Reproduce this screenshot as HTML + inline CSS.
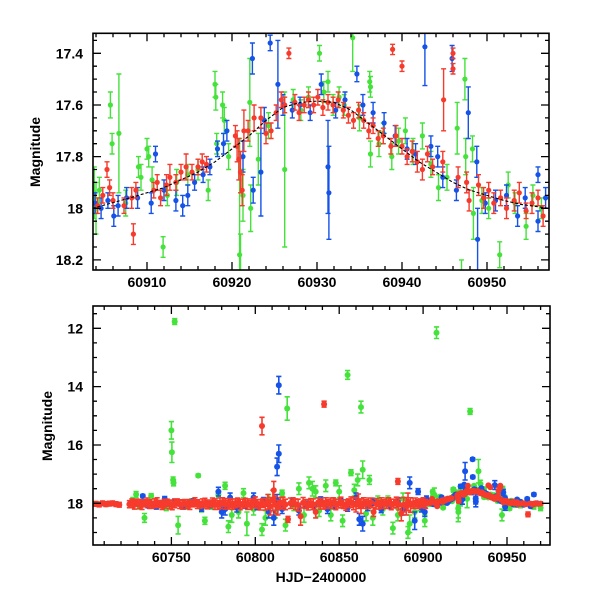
<!DOCTYPE html>
<html><head><meta charset="utf-8"><style>
html,body{margin:0;padding:0;background:#fff}
svg{display:block}
text{font-family:"Liberation Sans",sans-serif;font-weight:bold;fill:#000}
</style></head><body>
<svg id="chart" width="600" height="600" viewBox="0 0 600 600" xmlns="http://www.w3.org/2000/svg">
<defs>
<clipPath id="clipTop"><rect x="93" y="33.3" width="456" height="236.7"/></clipPath>
<clipPath id="clipBot"><rect x="93" y="306" width="457" height="239"/></clipPath>
</defs>
<g id="top"></g>
<g id="bot"></g>
<text transform="translate(40,152) rotate(-90)" text-anchor="middle" font-size="14">Magnitude</text>
<text transform="translate(52,426) rotate(-90)" text-anchor="middle" font-size="14">Magnitude</text>
<text x="321" y="582" text-anchor="middle" font-size="14">HJD−2400000</text>
</svg>
<script>
const red = [
[60705,18.02,.08],[60707,18.04,.08],[60709,18.0,.08],[60711,18.03,.08],[60713,18.01,.08],[60715,18.0,.08],[60717,18.03,.08],[60719,18.05,.08],
[60725,18.03,.12],[60726.5,18.0,.15],[60728,18.05,.15],[60729.5,17.98,.12],[60731,18.02,.15],[60732.5,18.06,.15],[60734,18.0,.12],[60735.5,17.97,.15],[60737,18.03,.15],[60738.5,18.05,.12],[60740,18.0,.15],[60741.5,17.96,.15],[60743,18.02,.12],[60744.5,18.06,.15],[60746,18.01,.15],[60747.5,17.98,.12],[60749,18.04,.15],[60750.5,18.07,.15],[60752,18.0,.15],[60753.5,17.97,.12],[60755,18.03,.15],[60756.5,18.05,.15],[60758,17.99,.12],[60759.5,18.02,.15],[60761,18.06,.15],[60762.5,18.0,.12],[60764,17.96,.15],[60765.5,18.03,.15],[60767,18.05,.12],[60768.5,18.0,.15],[60770,17.98,.15],[60771.5,18.04,.15],[60773,18.01,.12],[60774.5,17.97,.15],[60776,18.03,.18],[60777.5,18.06,.15],[60779,18.0,.18],[60780.5,17.96,.15],[60782,18.02,.18],[60783.5,18.05,.15],[60785,17.99,.15],[60786.5,18.03,.18],[60788,18.0,.15],[60789.5,17.97,.15],[60791,18.04,.18],[60792.5,18.01,.15],[60794,17.98,.15],[60795.5,18.03,.18],[60797,18.06,.15],[60798.5,18.0,.15],[60800,17.96,.18],[60801.5,18.02,.15],[60803,18.05,.18],[60804,15.35,.3],[60804.5,17.99,.15],[60806,18.03,.2],[60807.5,17.95,.25],[60809,18.1,.3],[60810.5,17.9,.35],[60811,17.55,.3],[60812,18.05,.3],[60813.5,18.15,.25],[60815,18.0,.2],[60816.5,17.97,.18],[60818,18.04,.18],[60819.5,18.55,.1],[60821,18.0,.18],[60822.5,17.96,.15],[60824,18.03,.18],[60825.5,18.06,.2],[60827,18.45,.3],[60828.5,17.98,.18],[60830,18.02,.15],[60831.5,18.05,.18],[60833,17.99,.15],[60834.5,18.03,.18],[60836,18.3,.2],[60837.5,17.97,.15],[60839,18.02,.18],[60840.5,18.05,.15],[60841,14.6,.1],[60842,17.99,.18],[60843.5,18.03,.15],[60845,18.0,.18],[60846.5,17.96,.15],[60848,18.04,.18],[60849.5,18.01,.15],[60851,17.97,.18],[60852.5,18.03,.15],[60854,18.06,.18],[60855.5,18.0,.15],[60857,17.96,.18],[60858.5,18.02,.2],[60860,18.05,.25],[60861.5,17.93,.25],[60863,18.1,.25],[60864.5,17.99,.18],[60866,18.03,.15],[60867.5,18.0,.18],[60869,17.97,.15],[60870.5,18.3,.15],[60872,18.02,.18],[60873.5,18.05,.15],[60875,17.99,.18],[60876.5,18.03,.15],[60878,18.0,.18],[60879.5,17.96,.15],[60881,18.04,.18],[60882.5,18.01,.15],[60884,17.97,.18],[60885,17.25,.1],[60885.5,18.03,.2],[60887,18.35,.25],[60888.5,18.05,.25],[60890,18.1,.3],[60891,17.95,.3],[60892.5,18.06,.25],[60894,18.0,.18],[60895.5,17.97,.15],[60897,18.03,.15],[60898.5,18.0,.15],[60900,17.96,.15],[60901.5,18.02,.15],[60903,17.98,.05],
[60904.2,17.99,.03],[60904.8,17.95,.03],[60905.3,17.85,.03],[60905.6,17.92,.03],[60906.0,17.97,.03],[60907.3,17.99,.03],[60908.2,17.96,.04],[60908.4,18.1,.04],[60908.7,17.93,.03],[60910.8,17.93,.03],[60911.2,17.9,.03],[60911.6,17.96,.03],[60912.3,17.91,.04],[60912.7,17.88,.05],[60913.4,17.9,.03],[60914.0,17.86,.03],[60914.6,17.84,.05],[60915.3,17.86,.03],[60916.0,17.84,.03],[60916.5,17.82,.03],[60917.0,17.83,.03],[60920.4,17.72,.04],[60920.6,17.76,.06],[60920.8,17.81,.08],[60921.0,17.86,.08],[60921.2,17.93,.06],[60921.4,17.7,.08],[60921.9,17.7,.04],[60922.6,17.65,.05],[60923.4,17.65,.04],[60924.0,17.71,.04],[60924.6,17.7,.03],[60925.2,17.63,.03],[60925.8,17.58,.03],[60926.2,17.6,.03],[60926.7,17.4,.02],[60927.4,17.59,.03],[60927.9,17.63,.03],[60928.5,17.6,.03],[60929.0,17.58,.03],[60929.6,17.6,.03],[60930.1,17.57,.03],[60930.7,17.61,.03],[60931.3,17.59,.03],[60931.9,17.6,.03],[60932.5,17.58,.03],[60933.1,17.62,.03],[60933.7,17.64,.03],[60934.3,17.66,.03],[60934.9,17.62,.03],[60935.5,17.66,.03],[60936.1,17.7,.03],[60936.6,17.68,.03],[60937.2,17.73,.03],[60937.8,17.72,.03],[60938.7,17.76,.03],[60938.9,17.385,.02],[60939.3,17.72,.04],[60940.0,17.45,.02],[60940.0,17.76,.03],[60940.6,17.8,.03],[60941.2,17.78,.04],[60941.8,17.82,.04],[60942.4,17.85,.04],[60943.0,17.79,.03],[60943.6,17.84,.03],[60944.8,17.82,.04],[60944.9,17.58,.12],[60946.0,17.4,.02],[60946.0,17.46,.02],[60946.6,17.88,.04],[60947.6,17.9,.04],[60947.9,17.97,.04],[60949.0,17.91,.04],[60949.6,17.96,.04],[60950.2,17.93,.03],[60950.8,17.98,.04],[60951.6,17.96,.03],[60952.3,18.0,.04],[60953.2,17.97,.04],[60953.8,17.94,.04],[60954.6,18.01,.03],[60955.3,17.98,.04],[60956.0,17.96,.03],[60956.6,18.03,.04],
[60958,18.02,.06],[60959.5,18.0,.06],[60961,18.03,.06],[60962.5,18.38,.08],[60964,18.01,.06],[60965.5,18.04,.06],[60967,18.0,.06],[60968.5,18.02,.06],[60970,18.01,.06]
];
const blue = [
[60733,17.75,.05],[60736,18.05,.1],[60741,18.1,.1],[60746,17.85,.08],[60752,17.95,.08],[60757,18.1,.1],[60763,17.95,.1],[60768,18.15,.12],[60773,18.05,.1],[60778,17.6,.15],[60780,18.3,.2],[60782,18.2,.2],[60785,17.8,.15],[60789,18.15,.15],[60794,18.05,.12],[60799,17.8,.15],[60801,18.1,.12],[60805,17.95,.15],[60808,18.3,.2],[60811,18.5,.25],[60813,17.9,.2],[60813,16.75,.3],[60814,16.3,.3],[60814,13.95,.3],[60816,18.2,.15],[60822,17.95,.12],[60826,18.25,.15],[60830,18.05,.12],[60835,18.1,.12],[60839,17.9,.12],[60843,18.2,.15],[60847,18.05,.12],[60851,17.95,.12],[60855,18.15,.12],[60860,17.8,.15],[60862,18.55,.2],[60864,18.7,.25],[60867,18.1,.15],[60870,17.95,.12],[60875,18.2,.12],[60880,18.05,.12],[60885,17.95,.15],[60888,18.2,.2],[60892,17.3,.2],[60895,18.6,.3],[60897,17.6,.1],[60899,18.15,.15],[60901,18.3,.15],[60902,17.85,.1],
[60903.9,17.98,.04],[60904.6,18.0,.04],[60905.4,17.97,.03],[60906.1,18.03,.04],[60906.6,17.99,.04],[60907.6,17.96,.04],[60908.9,17.96,.04],[60910.5,17.98,.04],[60911.0,17.79,.03],[60912.0,17.93,.04],[60913.4,17.97,.04],[60914.2,17.99,.04],[60914.8,17.95,.04],[60915.6,17.9,.03],[60916.6,17.87,.03],[60917.4,17.84,.03],[60918.3,17.77,.03],[60919.0,17.75,.04],[60919.4,17.7,.04],[60921.3,17.8,.06],[60922.4,17.42,.06],[60922.5,17.93,.05],[60923.4,17.86,.17],[60923.8,17.66,.05],[60924.5,17.36,.03],[60925,16.9,.3],[60925.4,17.52,.17],[60926.0,17.6,.04],[60927.1,17.62,.03],[60928.0,17.6,.03],[60929.2,17.63,.03],[60929.5,16.49,.05],[60929.6,17.1,.05],[60930.5,17.52,.04],[60931.3,17.84,.18],[60931.4,17.94,.18],[60932.2,17.62,.03],[60933.3,17.58,.03],[60934.7,17.48,.03],[60935.4,17.6,.04],[60936.6,17.63,.04],[60937.9,17.67,.04],[60939.2,17.72,.04],[60940.6,17.77,.04],[60941.6,17.79,.04],[60942.7,17.375,.15],[60943.4,17.76,.04],[60944.2,17.8,.04],[60944.8,17.88,.04],[60945.9,17.42,.05],[60946.4,17.93,.04],[60947.8,17.63,.1],[60948.8,17.82,.06],[60948.9,18.12,.12],[60949.8,17.98,.04],[60951.0,17.97,.04],[60952.3,17.95,.04],[60953.6,18.03,.04],[60954.5,17.96,.04],[60956.0,17.87,.03],[60956.0,18.05,.04],[60956.9,17.96,.04],
[60958,17.95,.05],[60960,18.05,.05],[60962,17.85,.05],[60964,18.1,.05],[60966,17.7,.05],[60968,18.0,.05]
];
const green = [
[60727,17.9,.1],[60729,17.7,.1],[60731,18.1,.1],[60734,18.5,.15],[60738,17.75,.08],[60742,18.05,.1],[60747,18.15,.1],[60750,15.5,.3],[60750.3,16.25,.35],[60751,17.2,.1],[60751.3,17.3,.1],[60752,11.77,.1],[60754,18.75,.3],[60758,18.1,.1],[60762,17.95,.1],[60766,17.05,.05],[60768,18.2,.1],[60770,18.6,.12],[60774,18.1,.1],[60778,17.7,.1],[60782,17.4,.12],[60784,18.8,.2],[60786,18.4,.25],[60790,18.3,.2],[60793,17.65,.15],[60795,18.7,.4],[60799,18.2,.2],[60804,18.9,.2],[60806,18.5,.25],[60808,17.85,.15],[60812,18.3,.2],[60816,17.65,.1],[60818,18.75,.2],[60819,14.75,.4],[60823,18.1,.15],[60826,17.5,.2],[60829,18.4,.25],[60832,17.3,.2],[60834,17.5,.25],[60836,17.6,.2],[60838,18.25,.2],[60842,17.4,.2],[60845,18.4,.2],[60848,17.3,.1],[60850,17.6,.2],[60852,18.6,.2],[60855,13.6,.15],[60857,16.95,.1],[60859,17.55,.2],[60861,17.2,.2],[60863,14.7,.2],[60864,16.85,.3],[60866,18.35,.25],[60868,17.2,.15],[60870,18.5,.25],[60873,17.9,.15],[60876,18.2,.2],[60879,17.9,.15],[60882,18.85,.2],[60885,18.4,.2],[60888,17.85,.2],[60891,19.0,.2],[60892,18.7,.3],[60895,18.3,.2],[60898,18.1,.15],[60901,18.6,.2],[60908,12.15,.2],[60921,18.3,.2],[60928,14.85,.1],[60933,16.9,.4],[60947,18.4,.2],
[60903.8,17.94,.1],[60904.0,18.0,.1],[60904.4,17.93,.05],[60905.7,17.6,.05],[60905.9,17.75,.04],[60906.7,17.71,.23],[60907.5,17.98,.05],[60909.0,17.84,.04],[60909.3,17.88,.05],[60910.0,17.77,.04],[60910.2,17.8,.04],[60910.6,17.89,.05],[60911.9,18.15,.04],[60912.4,17.95,.04],[60913.5,17.9,.05],[60914.8,17.87,.04],[60916.0,17.85,.04],[60917.2,17.93,.04],[60918.0,17.52,.05],[60918.1,17.57,.05],[60918.2,17.75,.04],[60918.9,17.6,.05],[60919.1,17.66,.05],[60919.6,17.8,.05],[60920.9,18.18,.45],[60921.3,17.95,.1],[60922.1,17.59,.17],[60922.2,18.0,.09],[60923.1,17.81,.1],[60924.3,17.68,.05],[60926.2,17.85,.3],[60927.2,17.58,.04],[60928.1,17.62,.04],[60929.0,17.57,.04],[60930.3,17.4,.03],[60930.8,17.55,.04],[60931.3,17.51,.04],[60931.9,17.6,.04],[60932.6,17.57,.04],[60933.2,17.6,.04],[60934.2,17.34,.13],[60935.0,17.65,.05],[60936.2,17.51,.04],[60936.3,17.53,.04],[60936.3,17.79,.05],[60937.3,17.75,.05],[60937.8,17.71,.04],[60938.8,17.8,.05],[60939.6,17.74,.05],[60940.4,17.7,.05],[60941.3,17.78,.05],[60942.4,17.72,.05],[60943.4,17.83,.05],[60944.3,17.92,.05],[60945.3,17.88,.05],[60946.5,17.69,.1],[60947.4,17.5,.08],[60947.5,17.8,.07],[60948.3,17.77,.05],[60948.4,18.02,.1],[60949.4,17.97,.05],[60950.2,18.0,.04],[60951.5,18.18,.05],[60952.5,17.91,.05],[60953.3,17.98,.04],[60954.6,18.07,.05],[60955.4,17.95,.04],[60956.4,18.0,.04],
[60958,18.05,.1],[60962,17.95,.1],[60966,18.1,.1],[60970,18.15,.1]
];
const modelT = [60903.6,60908,60912,60916,60918,60920,60922,60924,60926,60928,60930,60932,60934,60936,60938,60940,60942,60944,60946,60948,60950,60952,60954,60957.3];
const modelM = [18.0,17.96,17.92,17.86,17.82,17.77,17.72,17.66,17.61,17.59,17.585,17.59,17.62,17.67,17.72,17.77,17.82,17.86,17.9,17.93,17.95,17.97,17.985,18.0];
const topXTicks = [60910,60920,60930,60940,60950];
const topYTicks = [17.4,17.6,17.8,18.0,18.2];
const topYLabels = ["17.4","17.6","17.8","18","18.2"];
const botXTicks = [60750,60800,60850,60900,60950];
const botYTicks = [12,14,16,18];
const botYLabels = ["12","14","16","18"];

const NS='http://www.w3.org/2000/svg';
function mk(tag,attrs,parent){const e=document.createElementNS(NS,tag);for(const k in attrs)e.setAttribute(k,attrs[k]);parent.appendChild(e);return e;}

function panel(g,cfg){
  const X=t=>cfg.x0+(t-cfg.t0)*(cfg.x1-cfg.x0)/(cfg.t1-cfg.t0);
  const Y=m=>cfg.y0+(m-cfg.m0)*(cfg.y1-cfg.y0)/(cfg.m1-cfg.m0);
  const data=mk('g',{'clip-path':'url(#'+cfg.clip+')'},g);
  
  
  const series=[['green',green,'#46e23c'],['blue',blue,'#1552e8'],['red',red,'#f63a2c']];
  for(const [nm,arr,col] of series){
    const sg=mk('g',{},data);
    
    
    let d='';
    for(const p of arr){
      const x=X(p[0]),ya=Y(p[1]-p[2]),yb=Y(p[1]+p[2]);
      d+=`M${x.toFixed(1)} ${ya.toFixed(1)}V${yb.toFixed(1)}M${(x-cfg.cap).toFixed(1)} ${ya.toFixed(1)}h${2*cfg.cap}M${(x-cfg.cap).toFixed(1)} ${yb.toFixed(1)}h${2*cfg.cap}`;
    }
    const eb=mk('path',{d:d,stroke:col,'stroke-width':cfg.ew,fill:'none'},sg);
    
    
    for(const p of arr){
      const c=mk('circle',{cx:X(p[0]).toFixed(1),cy:Y(p[1]).toFixed(1),r:cfg.r,fill:col},sg);
      
      
    }
  }
  if(cfg.model){
    let d='';modelT.forEach((t,i)=>{d+=(i?'L':'M')+X(t).toFixed(1)+' '+Y(modelM[i]).toFixed(1);});
    const ml=mk('path',{d:d,stroke:'#000','stroke-width':1.1,fill:'none','stroke-dasharray':'3 2'},data);
    
    
  }
  const fr=mk('rect',{x:cfg.x0,y:cfg.y0,width:cfg.x1-cfg.x0,height:cfg.y1-cfg.y0,fill:'none',stroke:'#000','stroke-width':1.6},g);
  
  
  let td='';
  const tMin=Math.ceil(cfg.t0/cfg.xMinor)*cfg.xMinor;
  for(let t=tMin;t<=cfg.t1;t+=cfg.xMinor){
    const maj=Math.abs(t/cfg.xMajor-Math.round(t/cfg.xMajor))<1e-6;const L=maj?8:4;const x=X(t).toFixed(1);
    td+=`M${x} ${cfg.y1}v${-L}M${x} ${cfg.y0}v${L}`;
  }
  const mMin=Math.ceil(cfg.m0/cfg.yMinor-1e-6)*cfg.yMinor;
  for(let k=0;mMin+k*cfg.yMinor<=cfg.m1+1e-9;k++){
    const m=mMin+k*cfg.yMinor;
    const maj=Math.abs(m/cfg.yMajor-Math.round(m/cfg.yMajor))<1e-6;const L=maj?8:4;const y=Y(m).toFixed(1);
    td+=`M${cfg.x0} ${y}h${L}M${cfg.x1} ${y}h${-L}`;
  }
  const tk=mk('path',{d:td,stroke:'#000','stroke-width':1.3,fill:'none'},g);
  
  
  cfg.xt.forEach(t=>{
    const tx=mk('text',{x:X(t),y:cfg.y1+17,'text-anchor':'middle','font-size':14},g);
    tx.textContent=String(t);
    
    
  });
  cfg.yt.forEach((m,i)=>{
    const tx=mk('text',{x:cfg.x0-10,y:Y(m)+5,'text-anchor':'end','font-size':14},g);
    tx.textContent=cfg.yl[i];
    
    
  });
}
panel(document.getElementById('top'),{name:'top',clip:'clipTop',x0:93,x1:549,y0:33.3,y1:270,t0:60903.65,t1:60957.3,m0:17.3226,m1:18.239,xMinor:2,xMajor:10,yMinor:0.05,yMajor:0.2,xt:topXTicks,yt:topYTicks,yl:topYLabels,r:2.6,cap:2.5,ew:1.4,model:true});
panel(document.getElementById('bot'),{name:'bottom',clip:'clipBot',x0:93,x1:550,y0:306,y1:545,t0:60703.3,t1:60975.6,m0:11.235,m1:19.43,xMinor:10,xMajor:50,yMinor:0.5,yMajor:2,xt:botXTicks,yt:botYTicks,yl:botYLabels,r:3,cap:2.6,ew:1.6,model:false});
</script>
</body></html>
